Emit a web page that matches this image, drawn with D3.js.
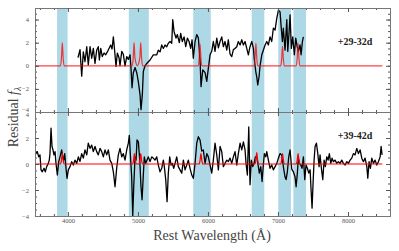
<!DOCTYPE html>
<html>
<head>
<meta charset="utf-8">
<script src="https://cdn.jsdelivr.net/npm/d3@7"></script>
<style>
  body { margin: 0; background: #fff; }
  svg { display: block; font-family: "Liberation Serif", "DejaVu Serif", serif; }
  .tick text { fill: #555; }
</style>
</head>
<body>
<svg id="chart" width="399" height="251"></svg>
<script>
// wavelength regions shaded in blue (Å)
const bands = [[3845, 3995], [4870, 5155], [5790, 6040], [6625, 6805], [7005, 7185], [7220, 7400]];

const xTicks = [4000, 5000, 6000, 7000, 8000];
const yTicks = [-4, -2, 0, 2, 4];

const epochs = ['+29-32d', '+39-42d'];

// residual spectra [wavelength, residual]
const residTop = [
  [4144, 0.7], [4173, 1.4], [4197, -0.9], [4220, 1.2], [4244, 0.35], [4269, 1.65], [4291, 0.08], [4316, 1.65],
  [4340, 0.65], [4363, 1.5], [4387, 0.2], [4411, 1.35], [4434, 1.65], [4449, 0.5], [4469, 1.5], [4491, 0.8],
  [4516, 1.1], [4540, 0.95], [4563, 1.2], [4587, 1.5], [4611, 1.8], [4630, 1.45], [4649, 2.5], [4663, 1.6],
  [4687, -0.05], [4706, 1.1], [4730, 0.7], [4744, 0], [4769, 1.25], [4791, 1.0], [4816, 0], [4840, 0.8],
  [4863, 0.55], [4887, 0.95], [4901, -0.2], [4916, -1.9], [4934, -0.6], [4959, -0.15], [4983, -0.6], [5006, -1.4],
  [5030, -2.5], [5044, -3.8], [5063, -2.5], [5077, -0.5], [5101, 0], [5126, 0.2], [5173, 0.5], [5220, 0.95],
  [5269, 0.95], [5291, 1.35], [5316, 1.2], [5340, 1.8], [5363, 1.5], [5387, 1.8], [5411, 1.65], [5434, 1.95],
  [5459, 2.1], [5483, 1.95], [5497, 4.0], [5516, 2.95], [5544, 2.4], [5563, 2.7], [5591, 2.0], [5611, 2.8],
  [5634, 2.1], [5659, 2.5], [5683, 1.65], [5706, 2.4], [5730, 2.1], [5754, 1.5], [5773, 2.25], [5791, 0.65],
  [5816, 2.1], [5840, 2.7], [5863, 2.4], [5887, 0.5], [5901, -1.8], [5926, -0.35], [5959, -0.6], [5983, -1.35],
  [6006, -0.2], [6030, 0.95], [6054, 1.25], [6077, 2.1], [6101, 1.25], [6126, 2.4], [6149, 1.55], [6173, 2.1],
  [6197, 2.5], [6220, 1.65], [6244, 2.1], [6269, 1.35], [6291, 2.25], [6316, 1.0], [6340, 0.8], [6363, 1.4],
  [6387, 1.5], [6411, 1.65], [6434, 2.1], [6459, 1.8], [6483, 2.25], [6506, 1.8], [6530, 2.1], [6554, 1.5],
  [6577, 0.95], [6601, 1.65], [6626, 2.1], [6649, 1.5], [6663, 0.5], [6683, -0.5], [6697, -0.95], [6711, -1.65],
  [6730, -0.95], [6744, 0], [6769, 0.95], [6791, 1.35], [6816, 1.8], [6840, 2.1], [6863, 1.8], [6887, 2.5],
  [6911, 2.1], [6934, 3.25], [6959, 3.1], [6983, 4.1], [7006, 4.8], [7030, 4.65], [7044, 3.5], [7063, 2.1],
  [7077, 3.25], [7101, 1.35], [7126, 4.0], [7140, 1.25], [7159, 2.95], [7173, 4.4], [7191, 1.5], [7211, 2.5],
  [7234, 0.95], [7254, 2.4], [7273, 1.7], [7291, 1.25], [7316, 1.8], [7330, 0.95], [7349, 2.1], [7363, 2.5]
];

const residBottom = [
  [3530, 1.08], [3544, 0.8], [3563, 0.95], [3583, 0.55], [3601, 0.7], [3616, -0.45], [3634, -0.6], [3659, -0.33],
  [3677, -0.6], [3697, -0.2], [3720, 0.05], [3734, 0.3], [3744, 0.8], [3759, 2.75], [3773, 1.35], [3787, 1.08],
  [3801, 0.7], [3816, 0.95], [3830, 0.05], [3849, -0.85], [3869, 0.18], [3887, 0.55], [3911, 1.08], [3926, 0.55],
  [3940, 0.3], [3954, 0.8], [3973, -0.33], [3987, -1.1], [4006, -0.45], [4030, -0.2], [4054, 0.18], [4077, -0.08],
  [4101, 0.3], [4126, 0.05], [4149, 0.55], [4173, 0.2], [4197, 0.8], [4220, 0.45], [4244, 1.08], [4269, 0.7],
  [4291, 1.6], [4316, 1.2], [4340, 1.45], [4363, 0.95], [4387, 1.35], [4411, 0.95], [4434, 0.7], [4459, 1.2],
  [4483, 0.95], [4506, 0.55], [4530, 1.08], [4554, 0.7], [4577, 1.08], [4601, 0.3], [4626, 0.05], [4649, -0.6],
  [4673, -1.75], [4697, -0.3], [4720, 0.7], [4744, 1.2], [4769, 0.55], [4791, 0.8], [4816, 0.3], [4840, 1.08],
  [4863, 1.6], [4877, 2.2], [4891, 0.8], [4911, -1.0], [4926, -4.0], [4940, -1.75], [4959, 0.55], [4973, 0.3],
  [4987, 1.85], [5006, 1.7], [5026, 0.3], [5044, -1.75], [5059, -2.75], [5077, -0.85], [5091, 0.55], [5111, 0.05],
  [5130, 0.3], [5149, 0.55], [5173, 0.18], [5197, 0.55], [5220, 0.45], [5244, 0.3], [5269, 0.55], [5291, -0.08],
  [5316, -0.6], [5340, -0.33], [5363, 0.3], [5377, -0.2], [5397, -1.2], [5416, -2.9], [5434, -0.7], [5454, 0.55],
  [5473, -0.08], [5491, 0.05], [5511, -0.33], [5530, 0.05], [5554, 0.55], [5577, -0.2], [5601, -0.45], [5626, -0.7],
  [5649, 0.3], [5673, -0.45], [5697, -0.08], [5720, 0.3], [5744, -0.33], [5769, -0.85], [5791, -1.1], [5816, 0.05],
  [5840, 1.6], [5863, 2.1], [5887, 1.85], [5911, 1.0], [5934, 1.08], [5959, 0.05], [5983, 0.8], [6006, 0.55],
  [6030, -0.08], [6054, -0.7], [6077, 0.3], [6101, 1.6], [6126, 0.7], [6149, -0.45], [6173, 1.35], [6197, 0.95],
  [6220, -0.2], [6244, 0.05], [6269, 0.3], [6291, 0.18], [6316, 0.45], [6340, 0.05], [6363, 0.55], [6387, 0.95],
  [6411, -0.08], [6434, 0.8], [6459, 1.6], [6483, 1.08], [6506, 1.7], [6530, 1.08], [6544, 0.05], [6563, -0.85],
  [6583, 2.85], [6601, -1.6], [6620, 0.3], [6640, -0.2], [6659, 0.05], [6677, 0.55], [6697, 0.55], [6720, -0.2],
  [6734, -0.7], [6754, -0.2], [6773, -1.35], [6791, -0.08], [6806, 0.8], [6826, 0.55], [6840, 0.95], [6863, 0.3],
  [6887, -0.33], [6911, -0.08], [6934, -0.45], [6959, -0.2], [6983, 0.05], [7006, 0.45], [7030, 0.8], [7054, 0.7],
  [7077, -0.2], [7101, -1.0], [7116, -1.2], [7134, -0.6], [7154, 0.55], [7173, 1.08], [7197, -0.4], [7220, -0.6],
  [7244, -1.0], [7259, -1.75], [7277, -0.7], [7291, 0.45], [7306, 0.05], [7326, -0.08], [7344, -0.33], [7363, 0.55],
  [7383, -1.2], [7401, -0.08], [7420, -0.33], [7440, -0.7], [7459, -0.45], [7473, -2.0], [7487, -3.4], [7501, -1.5],
  [7516, 0.3], [7530, 1.35], [7549, 1.6], [7569, 0.8], [7587, -0.2], [7601, 0.7], [7620, -0.33], [7640, -1.2],
  [7659, 0.3], [7677, -0.2], [7697, 0.55], [7716, 0.3], [7734, 0.8], [7754, 0.05], [7773, 0.45], [7791, 0.18],
  [7816, 0.3], [7840, 0.05], [7863, 0.18], [7887, 0.05], [7911, 0.3], [7934, 0.05], [7959, -0.08], [7983, 0.18],
  [8006, 0.05], [8030, 0.3], [8054, 0.45], [8077, 0.8], [8101, 0.7], [8126, 1.2], [8149, 0.8], [8173, 1.08],
  [8197, 0.45], [8220, 0.18], [8244, 0.45], [8269, -0.2], [8283, -1.1], [8301, 0.18], [8320, -0.33], [8340, 0.45],
  [8363, 0.05], [8387, 0.3], [8411, -0.08], [8434, 0.18], [8459, 0.55], [8473, 1.35], [8487, 0.7]
];

// line-marker model (red)
const modelTop = [
  [3530, 0], [3895, 0], [3908, 0.7], [3920, 2.0], [3932, 0.7], [3945, 0],
  [4920, 0], [4933, 0.7], [4945, 2.0], [4957, 0.7], [4992, 0], [5027, 0.7], [5040, 2.0], [5052, 0.7], [5065, 0],
  [5862, 0], [5875, 0.7], [5887, 1.9], [5899, 0.7], [5912, 0],
  [6660, 0], [6672, 0.7], [6685, 1.95], [6697, 0.7], [6710, 0],
  [7040, 0], [7053, 0.6], [7065, 1.7], [7077, 0.6], [7090, 0],
  [7262, 0], [7275, 0.7], [7287, 1.95], [7299, 0.7], [7312, 0], [8490, 0]
];

const modelBottom = [
  [3530, 0], [3895, 0], [3908, 0.3], [3920, 0.82], [3932, 0.3], [3945, 0],
  [4925, 0], [4938, 0.3], [4950, 0.8], [4962, 0.3], [4975, 0],
  [5015, 0], [5028, 0.3], [5040, 0.8], [5052, 0.3], [5065, 0],
  [5875, 0], [5888, 0.3], [5900, 0.8], [5912, 0.3], [5925, 0],
  [6672, 0], [6685, 0.32], [6697, 0.87], [6709, 0.32], [6722, 0],
  [7040, 0], [7053, 0.3], [7065, 0.8], [7077, 0.3], [7090, 0],
  [7262, 0], [7275, 0.3], [7287, 0.8], [7299, 0.3], [7312, 0], [8490, 0]
];

const svg = d3.select('#chart');
const margin = {left: 35, right: 9};
const width = 399 - margin.left - margin.right;

const x = d3.scaleLinear().domain([3530, 8600]).range([margin.left, margin.left + width]);

const panels = [
  {top: 8, bottom: 112, domain: [-4, 5], resid: residTop, model: modelTop, label: epochs[0], labelY: 45, modelOpacity: 0.75},
  {top: 112, bottom: 216, domain: [-4, 4], resid: residBottom, model: modelBottom, label: epochs[1], labelY: 139, modelOpacity: 1}
];

const minorX = d3.range(3600, 8601, 200).filter(v => v % 1000 !== 0);

panels.forEach((p, i) => {
  const y = d3.scaleLinear().domain(p.domain).range([p.bottom, p.top]);
  const g = svg.append('g');

  g.append('clipPath').attr('id', 'clip' + i)
    .append('rect')
    .attr('x', x.range()[0]).attr('y', p.top)
    .attr('width', width).attr('height', p.bottom - p.top);

  g.append('g')
    .selectAll('rect')
    .data(bands)
    .enter().append('rect')
    .attr('x', d => x(d[0]))
    .attr('y', p.top)
    .attr('width', d => x(d[1]) - x(d[0]))
    .attr('height', p.bottom - p.top)
    .attr('fill', '#add8e6');

  const line = d3.line().x(d => x(d[0])).y(d => y(d[1]));

  g.append('path')
    .datum(p.resid)
    .attr('clip-path', 'url(#clip' + i + ')')
    .attr('d', line)
    .attr('fill', 'none')
    .attr('stroke', '#000')
    .attr('stroke-width', 1.3)
    .attr('stroke-linejoin', 'round');

  g.append('path')
    .datum(p.model)
    .attr('clip-path', 'url(#clip' + i + ')')
    .attr('d', line.curve(d3.curveMonotoneX))
    .attr('fill', 'none')
    .attr('stroke', '#ff0000')
    .attr('stroke-opacity', p.modelOpacity)
    .attr('stroke-width', 1.2);

  // axes, ticks pointing inward on all four sides
  const minorY = d3.range(p.domain[0], p.domain[1] + 0.01, 0.5);

  g.append('g')
    .attr('transform', 'translate(' + x.range()[0] + ',0)')
    .call(d3.axisLeft(y).tickValues(minorY).tickSize(-2).tickFormat(''));
  const yMajor = g.append('g')
    .attr('class', 'y-major')
    .attr('transform', 'translate(' + x.range()[0] + ',0)')
    .call(d3.axisLeft(y).tickValues(yTicks).tickSize(-4).tickPadding(6).tickFormat(d => d < 0 ? '\u2212' + (-d) : d));
  // the two labels at the shared panel edge sit a little apart
  yMajor.selectAll('.tick text')
    .attr('dy', d => (i === 0 && d === -4) ? '-0.1em' : (i === 1 && d === 4) ? '0.75em' : '0.32em');

  g.append('g')
    .attr('transform', 'translate(' + x.range()[1] + ',0)')
    .call(d3.axisRight(y).tickValues(minorY).tickSize(-2).tickFormat(''));
  g.append('g')
    .attr('transform', 'translate(' + x.range()[1] + ',0)')
    .call(d3.axisRight(y).tickValues(yTicks).tickSize(-4).tickFormat(''));

  g.append('g')
    .attr('transform', 'translate(0,' + p.bottom + ')')
    .call(d3.axisBottom(x).tickValues(minorX).tickSize(-2).tickFormat(''));
  g.append('g')
    .attr('class', 'x-major')
    .attr('transform', 'translate(0,' + p.bottom + ')')
    .call(d3.axisBottom(x).tickValues(xTicks).tickSize(-4).tickPadding(2).tickFormat(i === 1 ? d3.format('d') : ''));
  g.append('g')
    .attr('transform', 'translate(0,' + p.top + ')')
    .call(d3.axisTop(x).tickValues(minorX).tickSize(-2).tickFormat(''));
  g.append('g')
    .attr('transform', 'translate(0,' + p.top + ')')
    .call(d3.axisTop(x).tickValues(xTicks).tickSize(-4).tickFormat(''));

  g.selectAll('.domain').attr('stroke', '#777');
  g.selectAll('.tick line').attr('stroke', '#555');
  g.selectAll('.tick text').attr('font-size', 6.5).attr('font-family', '"Liberation Serif", serif');

  g.append('text')
    .attr('x', 355)
    .attr('y', p.labelY)
    .attr('text-anchor', 'middle')
    .attr('font-size', 10)
    .attr('font-weight', 'bold')
    .attr('fill', '#222')
    .text(p.label);
});

svg.append('text')
  .attr('x', 212)
  .attr('y', 240)
  .attr('text-anchor', 'middle')
  .attr('font-size', 14)
  .attr('fill', '#444')
  .text('Rest Wavelength (\u00c5)');

const yl = svg.append('text')
  .attr('transform', 'translate(18,117) rotate(-90)')
  .attr('text-anchor', 'middle')
  .attr('font-size', 14)
  .attr('fill', '#444');
yl.append('tspan').text('Residual ');
yl.append('tspan').attr('font-style', 'italic').text('f');
yl.append('tspan').attr('font-style', 'italic').attr('font-size', 10).attr('dy', 3).text('\u03bb');
</script>
</body>
</html>
